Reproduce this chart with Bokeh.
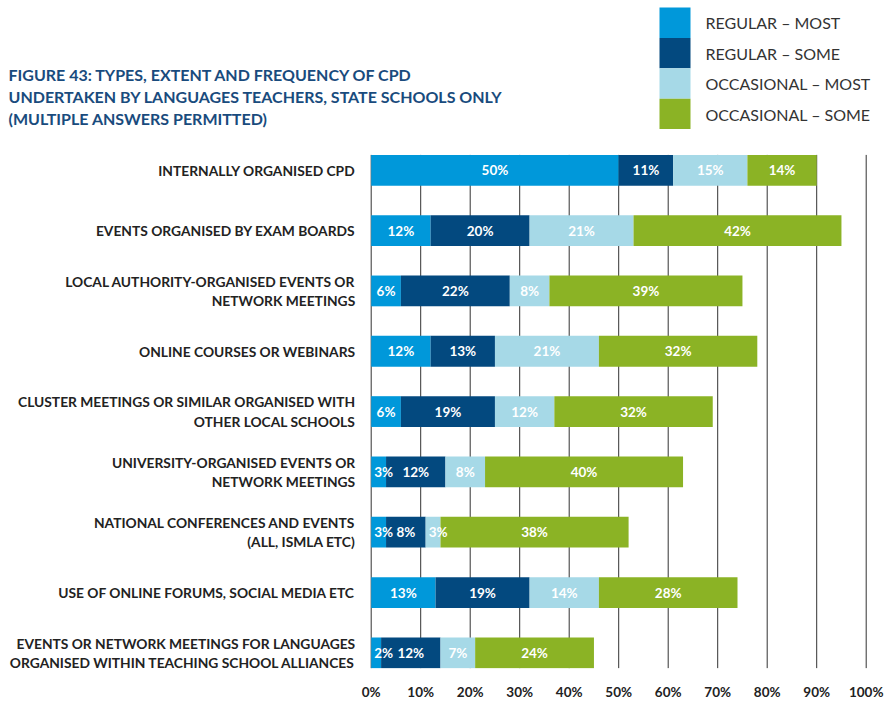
from bokeh.plotting import figure
from bokeh.models import (Range1d, FixedTicker, PrintfTickFormatter, Label,
                          ColumnDataSource)
from bokeh.core.properties import value
from bokeh.embed import file_html
from bokeh.resources import INLINE

# ---------------- data ----------------
categories = [
    "INTERNALLY ORGANISED CPD",
    "EVENTS ORGANISED BY EXAM BOARDS",
    "LOCAL AUTHORITY-ORGANISED EVENTS OR\nNETWORK MEETINGS",
    "ONLINE COURSES OR WEBINARS",
    "CLUSTER MEETINGS OR SIMILAR ORGANISED WITH\nOTHER LOCAL SCHOOLS",
    "UNIVERSITY-ORGANISED EVENTS OR\nNETWORK MEETINGS",
    "NATIONAL CONFERENCES AND EVENTS\n(ALL, ISMLA ETC)",
    "USE OF ONLINE FORUMS, SOCIAL MEDIA ETC",
    "EVENTS OR NETWORK MEETINGS FOR LANGUAGES\nORGANISED WITHIN TEACHING SCHOOL ALLIANCES",
]
regular_most = [50, 12, 6, 12, 6, 3, 3, 13, 2]
regular_some = [11, 20, 22, 13, 19, 12, 8, 19, 12]
occasional_most = [15, 21, 8, 21, 12, 8, 3, 14, 7]
occasional_some = [14, 42, 39, 32, 32, 40, 38, 28, 24]
series_names = ["REGULAR – MOST", "REGULAR – SOME", "OCCASIONAL – MOST", "OCCASIONAL – SOME"]
x_ticks = [0, 10, 20, 30, 40, 50, 60, 70, 80, 90, 100]
title_lines = [
    "FIGURE 43: TYPES, EXTENT AND FREQUENCY OF CPD",
    "UNDERTAKEN BY LANGUAGES TEACHERS, STATE SCHOOLS ONLY",
    "(MULTIPLE ANSWERS PERMITTED)",
]

# ---------------- style / layout ----------------
colors = ["#0098da", "#03497f", "#a6d9e7", "#8bb325"]
FONT = "Lato"
BAR_H = 0.51
W, H = 888, 702
X0_PX, PX_PER_PCT = 370.7, 4.95        # pixel of 0 % and pixels per percent
Y0_PX, PX_PER_ROW = 170.3, 60.5        # pixel centre of first row and row pitch
FRAME_H = 670


def px_x(px):
    return (px - X0_PX) / PX_PER_PCT


def px_y(px):
    return (px - Y0_PX) / PX_PER_ROW


series = [regular_most, regular_some, occasional_most, occasional_some]
keys = ["rm", "rs", "om", "os"]
ys = list(range(len(categories)))

source = ColumnDataSource(data=dict(y=ys, rm=regular_most, rs=regular_some,
                                    om=occasional_most, os=occasional_some))

p = figure(width=W, height=H, output_backend="svg", toolbar_location=None,
           x_range=Range1d(px_x(0), px_x(W)), y_range=Range1d(px_y(FRAME_H), px_y(0)),
           y_axis_location=None,
           min_border_left=0, min_border_right=0, min_border_top=0,
           min_border_bottom=H - FRAME_H)
p.outline_line_color = None
p.xgrid.visible = False
p.ygrid.visible = False
p.background_fill_color = "white"

ax = p.xaxis[0]
ax.ticker = FixedTicker(ticks=x_ticks)
ax.formatter = PrintfTickFormatter(format="%d%%")
ax.axis_line_color = None
ax.major_tick_line_color = None
ax.minor_tick_line_color = None
ax.major_tick_out = 0
ax.major_tick_in = 0
ax.minor_tick_out = 0
ax.minor_tick_in = 0
ax.major_label_standoff = 15
ax.major_label_text_font = FONT
ax.major_label_text_font_style = "bold"
ax.major_label_text_font_size = "13.5px"
ax.major_label_text_color = "#222222"

# vertical grid lines spanning the bars
top = -BAR_H / 2
bot = (len(categories) - 1) + BAR_H / 2
p.segment(x0=x_ticks, y0=[top] * len(x_ticks), x1=x_ticks, y1=[bot] * len(x_ticks),
          line_color="#333333", line_width=1)

renderers = p.hbar_stack(keys, y="y", height=BAR_H, source=source,
                         fill_color=colors, line_color=None)

# value labels (centred; narrow segments get a left-aligned label)
cx, cy, ct = [], [], []
lx, ly, lt = [], [], []
for i in ys:
    left = 0
    for s in series:
        v = s[i]
        if v < 5:
            lx.append(left); ly.append(i); lt.append(f"{v}%")
        else:
            cx.append(left + v / 2); cy.append(i); ct.append(f"{v}%")
        left += v
label_style = dict(text_baseline="middle", text_color="white", text_font=value(FONT),
                   text_font_style="bold", text_font_size="13.5px")
p.text(x=cx, y=cy, text=ct, text_align="center", **label_style)
p.text(x=lx, y=ly, text=lt, text_align="left", x_offset=3, **label_style)

# category labels
p.text(x=[0] * len(ys), y=ys, text=categories, x_offset=-16,
       text_align="right", text_baseline="middle", text_color="#222222",
       text_font=value(FONT), text_font_style="bold", text_font_size="13.8px",
       text_line_height=1.13)

# title
title_px = [74, 96, 118.5]
for t, yy in zip(title_lines, title_px):
    p.add_layout(Label(x=8, x_units="screen", y=px_y(yy), y_units="data", text=t,
                       text_align="left", text_baseline="middle",
                       text_font=FONT, text_font_style="bold",
                       text_font_size="16px", text_color="#194b7d"))

# legend: contiguous colour swatches with labels to the right
sw_top = [7 + 30.5 * k for k in range(len(series_names))]
p.quad(left=[px_x(659)] * 4, right=[px_x(690)] * 4,
       top=[px_y(t) for t in sw_top], bottom=[px_y(t + 30.5) for t in sw_top],
       fill_color=colors, line_color=None)
p.text(x=[px_x(705)] * 4, y=[px_y(t + 15.5) for t in sw_top], text=series_names,
       text_align="left", text_baseline="middle", text_color="#333333",
       text_font=value(FONT), text_font_size="16px")

open("out.html", "w").write(file_html(p, INLINE))
